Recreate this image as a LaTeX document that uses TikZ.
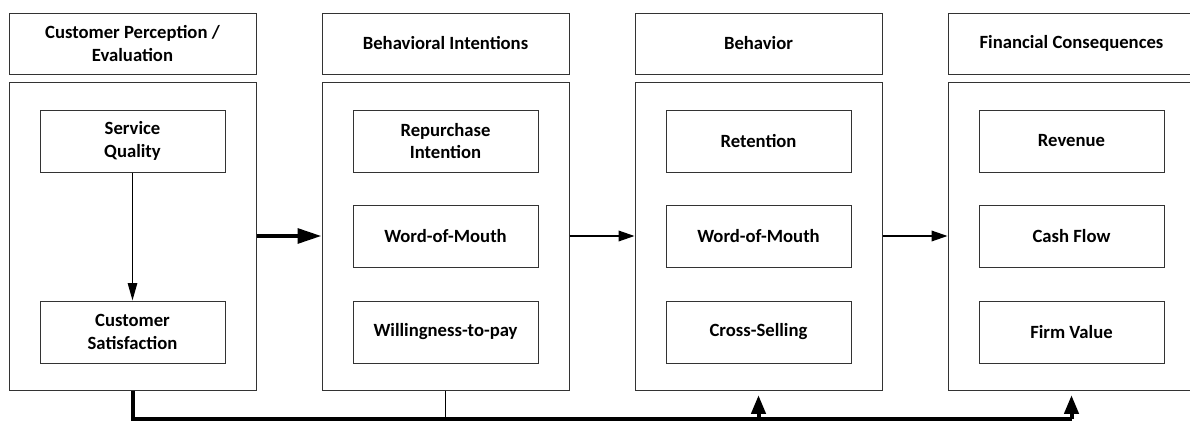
\documentclass[tikz,border=0pt]{standalone}
\usepackage{fontspec}
\setmainfont{Carlito}
\usetikzlibrary{arrows.meta}
\begin{document}
\begin{tikzpicture}[x=0.75pt,y=-0.75pt,
  box/.style={draw=black!80,line width=0.75pt,inner sep=0pt,align=center,
    font=\bfseries\fontsize{14}{17.2}\selectfont},
  headbox/.style={box,minimum width=185.25pt,minimum height=45.75pt},
  outerbox/.style={box,minimum width=185.25pt,minimum height=231pt},
  innerbox/.style={box,minimum width=138.75pt,minimum height=46.5pt},
  bigarrow/.style={line width=3pt,-{Triangle[length=18pt,width=11pt]}},
  arr/.style={line width=1.1pt,-{Triangle[length=12pt,width=8pt]}},
  varr/.style={line width=1.1pt,-{Triangle[length=13pt,width=7pt]}},
  bus/.style={line width=3pt,line join=miter},
  uparr/.style={line width=3pt,-{Triangle[length=14pt,width=10.5pt]},shorten >=3.5pt},
  thinline/.style={line width=0.75pt}
]
\clip (0,0) rectangle (1190,421);
\fill[white] (0,0) rectangle (1190,421);

% headers
\node[headbox] (h1) at (132.5,43.5) {Customer Perception /\\Evaluation};
\node[headbox] (h2) at (445.5,43.5) {Behavioral Intentions};
\node[headbox] (h3) at (758.5,43.5) {Behavior};
\node[headbox] (h4) at (1071.5,43.5) {Financial Consequences};

% outer boxes
\node[outerbox] (c1) at (132.5,236) {};
\node[outerbox] (c2) at (445.5,236) {};
\node[outerbox] (c3) at (758.5,236) {};
\node[outerbox] (c4) at (1071.5,236) {};

% column 1
\node[innerbox] (sq) at (132.5,141) {Service\\Quality};
\node[innerbox] (cs) at (132.5,332) {Customer\\Satisfaction};
% column 2
\node[innerbox] (ri) at (445.5,141) {Repurchase\\Intention};
\node[innerbox] (wm1) at (445.5,236) {Word-of-Mouth};
\node[innerbox] (wp) at (445.5,332) {Willingness-to-pay};
% column 3
\node[innerbox] (re) at (758.5,141) {Retention};
\node[innerbox] (wm2) at (758.5,236) {Word-of-Mouth};
\node[innerbox] (xs) at (758.5,332) {Cross-Selling};
% column 4
\node[innerbox] (rv) at (1071.5,141) {Revenue};
\node[innerbox] (cf) at (1071.5,236) {Cash Flow};
\node[innerbox] (fv) at (1071.5,332) {Firm Value};

% arrows
\draw[varr] (sq) -- (cs);
\draw[bigarrow] (c1) -- (c2);
\draw[arr] (c2) -- (c3);
\draw[arr] (c3) -- (c4);

% bottom bus
\coordinate (busL) at (132.5,419);
\coordinate (busR) at (1071.5,419);
\draw[bus] (c1.south) -- (busL) -- (busR);
\draw[thinline] (c2.south) -- (c2.south |- busL);
\draw[uparr] (c3.south |- busL) -- (c3.south);
\draw[uparr] (busR) -- (c4.south);
\end{tikzpicture}
\end{document}
